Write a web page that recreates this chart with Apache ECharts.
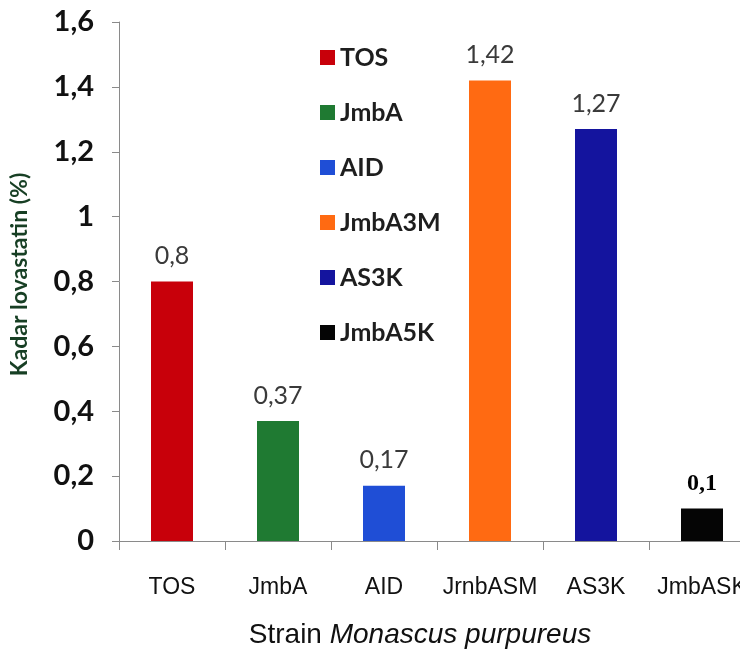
<!DOCTYPE html>
<html>
<head>
<meta charset="utf-8">
<script src="https://cdn.jsdelivr.net/npm/echarts@6/dist/echarts.min.js"></script>
<style>
  html, body { margin: 0; padding: 0; background: #fff; overflow: hidden; }
  #chart { width: 755px; height: 654px; }
</style>
</head>
<body>
<div id="chart"></div>
<script>
// data
const categories = ['TOS', 'JmbA', 'AID', 'JrnbASM', 'AS3K', 'JmbASK'];
const legendNames = ['TOS', 'JmbA', 'AID', 'JmbA3M', 'AS3K', 'JmbA5K'];
const values = [0.8, 0.37, 0.17, 1.42, 1.27, 0.1];
const yTicks = { min: 0, max: 1.6, interval: 0.2 };

const colors = ['#c8000a', '#1f7a32', '#1f4ed6', '#ff6a12', '#14149e', '#050505'];
const comma = v => String(v).replace('.', ',');

const chart = echarts.init(document.getElementById('chart'));

const series = categories.map((c, i) => ({
  name: legendNames[i],
  type: 'bar',
  barWidth: 42,
  barGap: '-100%',
  itemStyle: { color: colors[i] },
  data: values.map((v, j) => (j === i ? v : '-')),
  label: {
    show: true,
    position: 'top',
    distance: 13,
    formatter: p => comma(p.value),
    color: i === 5 ? '#000' : '#3a3a3a',
    fontFamily: i === 5 ? 'Liberation Serif' : 'Lato',
    fontWeight: i === 5 ? 'bold' : 'normal',
    fontSize: i === 5 ? 24 : 25
  }
}));

chart.setOption({
  animation: false,
  color: colors,
  grid: { left: 113, right: 0, top: 22, bottom: 108 },
  legend: {
    orient: 'vertical',
    left: 315,
    top: 40,
    itemWidth: 15,
    itemHeight: 15,
    itemGap: 30,
    icon: 'rect',
    data: legendNames,
    textStyle: { fontFamily: 'Lato', fontWeight: 'bold', fontSize: 25, color: '#1e1e1e' }
  },
  xAxis: {
    type: 'category',
    data: categories,
    axisLine: { lineStyle: { color: '#8a8a8a', width: 1 } },
    axisTick: { show: true, length: 9, lineStyle: { color: '#8a8a8a' } },
    axisLabel: { interval: 0, margin: 35, fontFamily: 'Liberation Sans', fontSize: 23, color: '#111' },
    name: '{a|Strain }{b|Monascus purpureus}',
    nameLocation: 'middle',
    nameGap: 80,
    nameTextStyle: {
      padding: [0, 34, 0, 0],
      rich: {
        a: { fontFamily: 'Liberation Sans', fontSize: 28, color: '#111' },
        b: { fontFamily: 'Liberation Sans', fontSize: 28, fontStyle: 'italic', color: '#111' }
      }
    }
  },
  yAxis: {
    type: 'value',
    min: yTicks.min,
    max: yTicks.max,
    interval: yTicks.interval,
    splitLine: { show: false },
    axisLine: { show: true, lineStyle: { color: '#8a8a8a', width: 1 } },
    axisTick: { show: true, length: 7, lineStyle: { color: '#8a8a8a' } },
    axisLabel: {
      margin: 25,
      formatter: comma,
      fontFamily: 'Lato',
      fontWeight: 'bold',
      fontSize: 29,
      color: '#111'
    },
    name: 'Kadar lovastatin (%)',
    nameLocation: 'middle',
    nameGap: 88,
    nameTextStyle: {
      fontFamily: 'Lato',
      fontWeight: 'bold',
      fontSize: 23,
      color: '#173f24',
      padding: [0, 0, 0, 14]
    }
  },
  series: series
});
</script>
</body>
</html>
